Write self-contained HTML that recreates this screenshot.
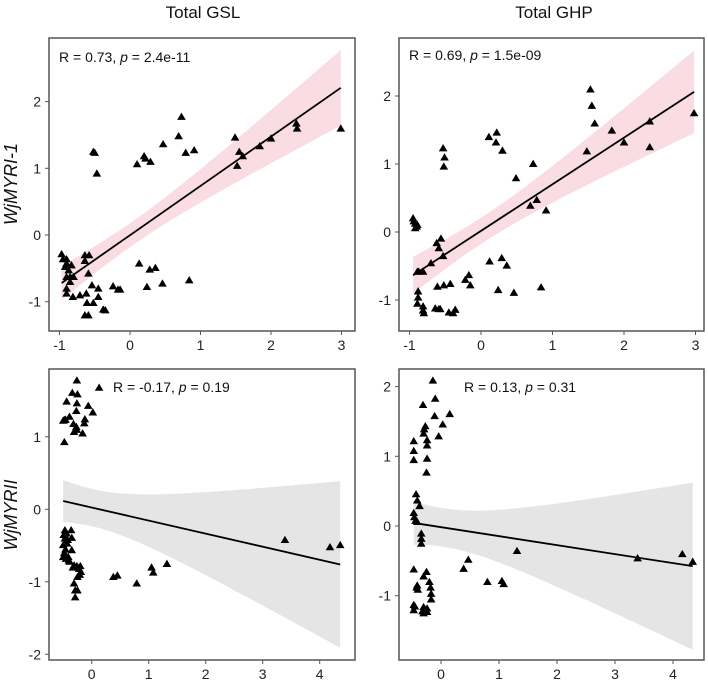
<!DOCTYPE html>
<html><head><meta charset="utf-8"><style>
body{margin:0;background:#fff;}
svg{display:block;font-family:"Liberation Sans",sans-serif;}
</style></head><body>
<svg id="chart" width="708" height="680" viewBox="0 0 708 680" xmlns="http://www.w3.org/2000/svg">
<text x="203" y="18" font-size="17" text-anchor="middle" fill="#111">Total GSL</text>
<text x="554" y="18" font-size="17" text-anchor="middle" fill="#111">Total GHP</text>
<text transform="translate(17,184) rotate(-90)" font-size="18" font-style="italic" text-anchor="middle" fill="#111">WjMYRI-1</text>
<text transform="translate(17,515) rotate(-90)" font-size="18" font-style="italic" text-anchor="middle" fill="#111">WjMYRII</text>
</svg>
<script>
const tlX=[-0.97,-0.95,-0.90,-0.92,-0.90,-0.87,-0.90,-0.85,-0.83,-0.80,-0.90,-0.90,-0.85,-0.64,-0.58,-0.64,-0.59,-0.54,-0.45,-0.81,-0.71,-0.62,-0.61,-0.52,-0.45,-0.64,-0.59,-0.38,-0.35,-0.24,-0.17,-0.14,-0.52,-0.50,-0.47,0.10,0.20,0.22,0.29,0.47,0.69,0.73,0.79,0.91,0.13,0.24,0.28,0.36,0.46,0.84,1.49,1.52,1.55,1.60,1.84,2.00,2.36,2.37,2.99];
const tlY=[-0.285,-0.36,-0.36,-0.475,-0.425,-0.525,-0.625,-0.625,-0.45,-0.625,-0.80,-0.875,-0.70,-0.30,-0.30,-0.385,-0.575,-0.75,-0.80,-0.925,-0.90,-0.875,-1.015,-1.015,-0.925,-1.20,-1.20,-1.115,-1.125,-0.765,-0.815,-0.815,1.25,1.235,0.925,1.065,1.185,1.15,1.10,1.365,1.485,1.775,1.235,1.275,-0.425,-0.775,-0.515,-0.49,-0.725,-0.675,1.465,1.04,1.25,1.185,1.335,1.45,1.675,1.60,1.60];
const trX=[-0.95,-0.94,-0.92,-0.89,-0.90,-0.92,-0.89,-0.87,-0.81,-0.88,-0.88,-0.89,-0.81,-0.81,-0.80,-0.70,-0.62,-0.59,-0.56,-0.53,-0.61,-0.52,-0.43,-0.45,-0.39,-0.36,-0.64,-0.59,-0.57,-0.53,-0.51,-0.52,-0.22,-0.17,-0.15,0.11,0.22,0.21,0.30,0.49,0.73,0.69,0.78,0.91,0.12,0.29,0.36,0.24,0.46,0.84,1.48,1.53,1.55,1.59,1.83,2.00,2.36,2.36,2.98];
const trY=[0.205,0.16,0.125,0.11,0.083,0.06,-0.58,-0.58,-0.58,-0.87,-0.96,-1.05,-1.09,-1.15,-1.19,-0.455,-0.16,-0.235,-0.093,-0.35,-0.80,-0.78,-0.76,-1.18,-1.19,-1.14,-1.12,-1.13,-1.13,1.235,1.10,0.965,-0.70,-0.63,-0.78,1.40,1.465,1.32,1.20,0.795,1.005,0.39,0.475,0.32,-0.43,-0.38,-0.49,-0.85,-0.89,-0.81,1.19,2.10,1.86,1.60,1.495,1.32,1.63,1.25,1.75];
const blX=[-0.48,-0.48,-0.44,-0.50,-0.46,-0.39,-0.34,-0.26,-0.25,-0.26,-0.27,-0.32,-0.31,-0.27,-0.26,-0.16,-0.12,-0.13,-0.06,0.02,0.13,-0.50,-0.47,-0.44,-0.43,-0.50,-0.41,-0.39,-0.36,-0.35,-0.35,-0.31,-0.26,-0.25,-0.20,-0.19,-0.31,-0.29,-0.25,-0.29,0.38,0.45,0.79,1.05,1.08,1.32,3.39,4.18,4.36,-0.49,-0.47,-0.46,-0.48,-0.45,-0.42,-0.40,-0.33,-0.22,-0.21];
const blY=[0.93,1.235,1.49,1.225,1.24,1.28,1.61,1.78,1.59,1.465,1.36,1.18,1.07,1.14,1.10,1.05,1.245,1.19,1.43,1.34,1.68,-0.49,-0.285,-0.33,-0.47,-0.655,-0.655,-0.72,-0.285,-0.39,-0.56,-0.77,-0.78,-0.93,-0.78,-0.86,-1.02,-1.115,-1.115,-1.21,-0.93,-0.91,-1.02,-0.80,-0.87,-0.75,-0.42,-0.52,-0.49,-0.35,-0.40,-0.55,-0.60,-0.68,-0.42,-0.70,-0.80,-0.82,-0.90];
const brX=[-0.14,-0.10,-0.31,-0.11,0.15,0.03,-0.27,-0.29,-0.30,-0.04,-0.24,-0.24,-0.47,-0.47,-0.47,-0.24,-0.25,-0.43,-0.41,-0.37,-0.47,-0.46,-0.44,-0.41,-0.34,-0.34,-0.34,-0.47,-0.30,-0.25,-0.41,-0.40,-0.20,-0.18,-0.17,-0.17,-0.47,-0.47,-0.30,-0.27,-0.24,-0.30,-0.24,0.39,0.47,0.80,1.05,1.08,1.31,3.39,4.16,4.34,-0.45,-0.42,-0.32,-0.28];
const brY=[2.09,1.83,1.74,1.58,1.61,1.46,1.435,1.39,1.33,1.29,1.235,1.16,1.22,1.08,0.95,0.97,0.77,0.46,0.37,0.29,0.19,0.13,0.077,0.062,-0.105,-0.18,-0.25,-0.62,-0.72,-0.655,-0.85,-0.91,-0.80,-0.88,-0.97,-1.05,-1.13,-1.205,-1.16,-1.205,-1.23,-1.25,-1.18,-0.61,-0.48,-0.80,-0.785,-0.83,-0.355,-0.46,-0.40,-0.51,-1.15,-0.88,-1.22,-1.20];
const topXTicks=[-1,0,1,2,3];
const botXTicks=[0,1,2,3,4];
const tlYTicks=[-1,0,1,2];
const trYTicks=[-1,0,1,2];
const blYTicks=[-2,-1,0,1];
const brYTicks=[-1,0,1,2];
const tlLabel=["R = 0.73, ","p"," = 2.4e-11"];
const trLabel=["R = 0.69, ","p"," = 1.5e-09"];
const blLabel=["R = -0.17, ","p"," = 0.19"];
const brLabel=["R = 0.13, ","p"," = 0.31"];

const NS="http://www.w3.org/2000/svg";
const svg=document.getElementById('chart');
function mk(tag,attrs,parent){const e=document.createElementNS(NS,tag);for(const k in attrs)e.setAttribute(k,attrs[k]);(parent||svg).appendChild(e);return e;}

function panel(p){
  const g=mk('g',{});
  
  
  const sx=v=>p.L+(v-p.x0)/(p.x1-p.x0)*(p.R-p.L);
  const sy=v=>p.B-(v-p.y0)/(p.y1-p.y0)*(p.B-p.T);
  const X=p.xs,Y=p.ys,n=X.length;
  let mx=0,my=0;for(let i=0;i<n;i++){mx+=X[i];my+=Y[i];}mx/=n;my/=n;
  let sxx=0,sxy=0;for(let i=0;i<n;i++){sxx+=(X[i]-mx)**2;sxy+=(X[i]-mx)*(Y[i]-my);}
  const b=sxy/sxx,a=my-b*mx;
  let rss=0;for(let i=0;i<n;i++){rss+=(Y[i]-a-b*X[i])**2;}
  const s=Math.sqrt(rss/(n-2)),t=2.0;
  const xmin=Math.min(...X),xmax=Math.max(...X);
  const up=[],lo=[];
  for(let k=0;k<=60;k++){const x=xmin+(xmax-xmin)*k/60;const hw=t*s*Math.sqrt(1/n+(x-mx)**2/sxx);const yh=a+b*x;
    up.push(sx(x).toFixed(1)+','+sy(yh+hw).toFixed(1));lo.unshift(sx(x).toFixed(1)+','+sy(yh-hw).toFixed(1));}
  const clipId='clip-'+p.name;
  const cp=mk('clipPath',{id:clipId},g);mk('rect',{x:p.L,y:p.T,width:p.R-p.L,height:p.B-p.T},cp);
  const band=mk('polygon',{points:up.concat(lo).join(' '),fill:p.band,'clip-path':'url(#'+clipId+')'},g);
  
  
  for(let i=0;i<n;i++){const cx=sx(X[i]),cy=sy(Y[i]);
    const tri=mk('polygon',{points:`${cx},${cy-4} ${cx-4.3},${cy+3.3} ${cx+4.3},${cy+3.3}`,fill:'#000'},g);
    
    }
  const ln=mk('line',{x1:sx(xmin),y1:sy(a+b*xmin),x2:sx(xmax),y2:sy(a+b*xmax),stroke:'#000','stroke-width':1.8},g);
  
  
  const fr=mk('rect',{x:p.L,y:p.T,width:p.R-p.L,height:p.B-p.T,fill:'none',stroke:'#555','stroke-width':1.5},g);
  
  
  p.xt.forEach(v=>{const x=sx(v);mk('line',{x1:x,y1:p.B,x2:x,y2:p.B+4,stroke:'#555','stroke-width':1},g);
    const tx=mk('text',{x:x,y:p.B+19,'font-size':14,'text-anchor':'middle',fill:'#222'},g);tx.textContent=v;
    
    });
  p.yt.forEach(v=>{const y=sy(v);mk('line',{x1:p.L-4,y1:y,x2:p.L,y2:y,stroke:'#555','stroke-width':1},g);
    const tx=mk('text',{x:p.L-8,y:y+5,'font-size':14,'text-anchor':'end',fill:'#222'},g);tx.textContent=v;
    
    });
  const an=mk('text',{x:p.ax,y:p.ay,'font-size':14,fill:'#111'},g);
  
  
  p.label.forEach((s,i)=>{const ts=mk('tspan',i===1?{'font-style':'italic'}:{},an);ts.textContent=s;});
}
panel({name:'panel-myri1-gsl',L:49,R:355,T:38,B:331,x0:(49-130)/70.5,x1:(355-130)/70.5,y0:(235-331)/66.7,y1:(235-38)/66.7,xs:tlX,ys:tlY,xt:topXTicks,yt:tlYTicks,band:'#fadde3',ax:59,ay:62,label:tlLabel});
panel({name:'panel-myri1-ghp',L:399,R:704,T:38,B:331,x0:(399-481)/71.5,x1:(704-481)/71.5,y0:(232-331)/68,y1:(232-38)/68,xs:trX,ys:trY,xt:topXTicks,yt:trYTicks,band:'#fadde3',ax:409,ay:60,label:trLabel});
panel({name:'panel-myrii-gsl',L:49,R:355,T:369,B:660,x0:(49-91.7)/57,x1:(355-91.7)/57,y0:(509.3-660)/72.5,y1:(509.3-369)/72.5,xs:blX,ys:blY,xt:botXTicks,yt:blYTicks,band:'#e5e5e5',ax:113,ay:392,label:blLabel});
panel({name:'panel-myrii-ghp',L:399,R:704,T:369,B:660,x0:(399-441)/58,x1:(704-441)/58,y0:(526-660)/69.7,y1:(526-369)/69.7,xs:brX,ys:brY,xt:botXTicks,yt:brYTicks,band:'#e5e5e5',ax:464,ay:392,label:brLabel});
</script>
</body></html>
